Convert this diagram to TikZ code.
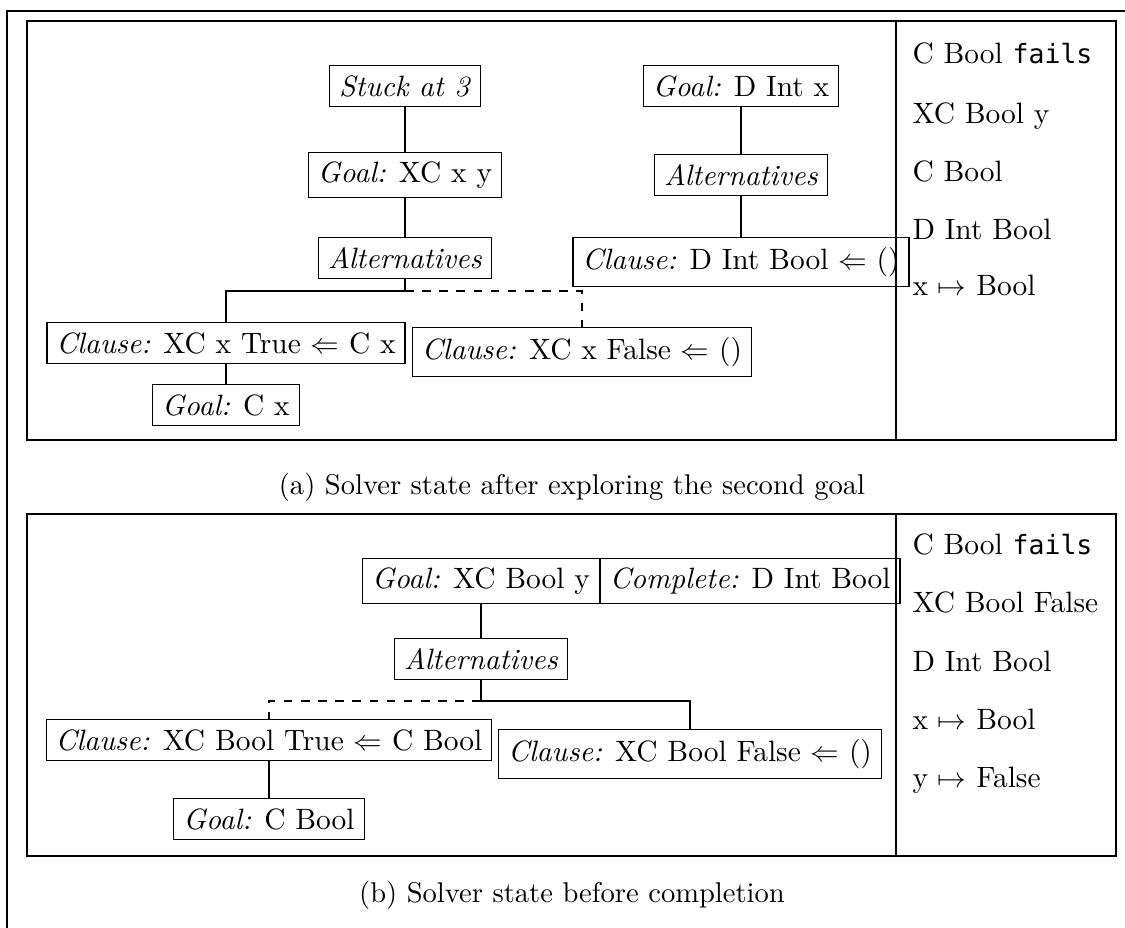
\documentclass[tikz,border=0pt]{standalone}
\usepackage{fontspec}
\setmonofont{DejaVu Sans Mono}[Scale=0.9]
\begin{document}
\begin{tikzpicture}[x=0.35pt,y=-0.35pt,
  diag/.style={font=\fontsize{10.3}{12.4}\selectfont},
  box/.style={draw, inner sep=3.3pt, diag},
  conn/.style={},
  lbl/.style={anchor=base west, inner sep=0pt, diag},
  captext/.style={anchor=base, inner sep=0pt}]
\useasboundingbox (0,0) rectangle (1125,928);
\draw (7,928) -- (7,11) -- (1125,11);
% ---------- panel (a)
\draw (27,21) rectangle (1116,440);
\draw (896,21) -- (896,440);
\node[box] (stuck) at (405,86) {\textit{Stuck at 3}};
\node[box] (goalA) at (405,175) {\textit{Goal:} XC x y};
\node[box] (altA) at (405,258) {\textit{Alternatives}};
\node[box] (c1a) at (226,343) {\textit{Clause:} XC x True $\Leftarrow$ C x};
\node[box] (c2a) at (582,352) {\textit{Clause:} XC x False $\Leftarrow$ ()};
\node[box] (gcx) at (226,405) {\textit{Goal:} C x};
\coordinate (ja) at (405,291);
\draw[conn] (stuck) -- (goalA);
\draw[conn] (goalA) -- (altA);
\draw[conn] (altA.south) -- (ja) -| (c1a.north);
\draw[conn,dashed] (ja) -| (c2a.north);
\draw[conn] (c1a) -- (gcx);
\node[box] (goalD) at (741,86) {\textit{Goal:} D Int x};
\node[box] (altD) at (741,175) {\textit{Alternatives}};
\node[box] (clD) at (741,262) {\textit{Clause:} D Int Bool $\Leftarrow$ ()};
\draw[conn] (goalD) -- (altD);
\draw[conn] (altD) -- (clD);
\node[lbl] (a1) at (912,64) {C Bool \texttt{fails}};
\node[lbl] (a2) at (912,124) {XC Bool y};
\node[lbl] (a3) at (912,182) {C Bool};
\node[lbl] (a4) at (912,240) {D Int Bool};
\node[lbl] (a5) at (912,296) {x $\mapsto$ Bool};
\node[captext] (capA) at (572,495) {(a) Solver state after exploring the second goal};
% ---------- panel (b)
\draw (27,514) rectangle (1116,856);
\draw (896,514) -- (896,856);
\node[box] (gbl) at (481,581) {\textit{Goal:} XC Bool y};
\node[box, anchor=west] (gbr) at (gbl.east) {\textit{Complete:} D Int Bool};
\node[box] (altB) at (481,659) {\textit{Alternatives}};
\node[box] (c1b) at (269,740) {\textit{Clause:} XC Bool True $\Leftarrow$ C Bool};
\node[box] (c2b) at (690,754) {\textit{Clause:} XC Bool False $\Leftarrow$ ()};
\node[box] (gcb) at (269,819) {\textit{Goal:} C Bool};
\coordinate (jb) at (481,701);
\draw[conn] (gbl) -- (altB);
\draw[conn] (altB.south) -- (jb) -| (c2b.north);
\draw[conn,dashed] (jb) -| (c1b.north);
\draw[conn] (c1b) -- (gcb);
\node[lbl] (b1) at (912,555) {C Bool \texttt{fails}};
\node[lbl] (b2) at (912,613) {XC Bool False};
\node[lbl] (b3) at (912,672) {D Int Bool};
\node[lbl] (b4) at (912,730) {x $\mapsto$ Bool};
\node[lbl] (b5) at (912,788) {y $\mapsto$ False};
\node[captext] (capB) at (572,903) {(b) Solver state before completion};
\end{tikzpicture}
\end{document}
